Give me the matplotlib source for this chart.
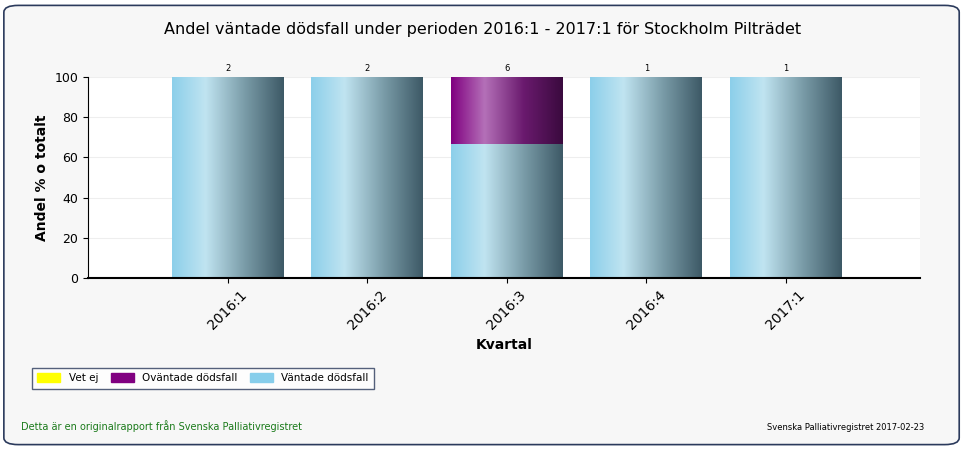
import numpy as np
import matplotlib.pyplot as plt
from matplotlib.patches import FancyBboxPatch, Rectangle
from matplotlib.colors import LinearSegmentedColormap

quarters = ["2016:1", "2016:2", "2016:3", "2016:4", "2017:1"]
vet_ej = [0, 0, 0, 0, 0]
ovantade = [0, 0, 33.3, 0, 0]
vantade = [100, 100, 66.7, 100, 100]
counts = [2, 2, 6, 1, 1]

blue_cmap = LinearSegmentedColormap.from_list(
    "b", [(0, "#8ccfea"), (0.3, "#c0e4f1"), (0.65, "#7a9ca8"), (1, "#3d5966")])
purple_cmap = LinearSegmentedColormap.from_list(
    "p", [(0, "#800080"), (0.3, "#b470b8"), (0.65, "#6a1a6e"), (1, "#3a0a3e")])

fig = plt.figure(figsize=(9.65, 4.5), dpi=100)
fig.patch.set_facecolor("white")
frame = FancyBboxPatch((0.004, 0.012), 0.99, 0.976, boxstyle="round,pad=0,rounding_size=0.015",
                       transform=fig.transFigure, facecolor="#f7f7f7", edgecolor="#2b3a5c",
                       lw=1.2, zorder=-10)
fig.patches.append(frame)

ax = fig.add_axes([0.0912, 0.382, 0.862, 0.447])
ax.set_zorder(1)
ax.set_facecolor("white")
x = np.arange(len(quarters))
w = 0.8
grad = np.linspace(0, 1, 256).reshape(1, -1)


def grad_bar(xc, bottom, height, cmap):
    if height <= 0:
        return
    rect = Rectangle((xc - w / 2, bottom), w, height, facecolor="none", edgecolor="none")
    ax.add_patch(rect)
    im = ax.imshow(grad, cmap=cmap, aspect="auto",
                   extent=(xc - w / 2, xc + w / 2, bottom, bottom + height), zorder=2)
    im.set_clip_path(rect)


for i in range(len(quarters)):
    grad_bar(x[i], 0, vantade[i], blue_cmap)
    grad_bar(x[i], vantade[i], ovantade[i], purple_cmap)
    grad_bar(x[i], vantade[i] + ovantade[i], vet_ej[i], "autumn")
    ax.text(x[i], 102, str(counts[i]), ha="center", va="bottom", fontsize=6)

ax.set_xlim(-1, 4.96)
ax.set_ylim(0, 100)
ax.set_yticks(range(0, 101, 20))
ax.yaxis.grid(True, color="#eeeeee", lw=0.8)
ax.set_axisbelow(True)
ax.set_xticks(x)
ax.set_xticklabels(quarters, rotation=45, fontsize=10)
ax.tick_params(axis="y", labelsize=9)
for s in ["top", "right"]:
    ax.spines[s].set_visible(False)
ax.spines["bottom"].set_linewidth(1.5)
ax.set_ylabel("Andel % o totalt", fontweight="bold", fontsize=10)
ax.set_xlabel("Kvartal", fontweight="bold", fontsize=10)

fig.text(0.5, 0.925, "Andel väntade dödsfall under perioden 2016:1 - 2017:1 för Stockholm Pilträdet",
         ha="center", fontsize=11.5)

handles = [Rectangle((0, 0), 1, 1, color=c) for c in ["#ffff00", "#800080", "#87ceeb"]]
leg = fig.legend(handles, ["Vet ej", "Oväntade dödsfall", "Väntade dödsfall"],
                 loc="lower left", bbox_to_anchor=(0.028, 0.125), ncol=3, fontsize=7.5,
                 fancybox=False, edgecolor="#2b3a5c", handlelength=2.2, handleheight=0.9,
                 columnspacing=1.2, borderpad=0.5)
leg.get_frame().set_linewidth(1)

fig.text(0.022, 0.045, "Detta är en originalrapport från Svenska Palliativregistret",
         fontsize=7, color="#1a7a1a")
fig.text(0.958, 0.045, "Svenska Palliativregistret 2017-02-23", fontsize=6, ha="right")

fig.savefig("out.png", dpi=100)
